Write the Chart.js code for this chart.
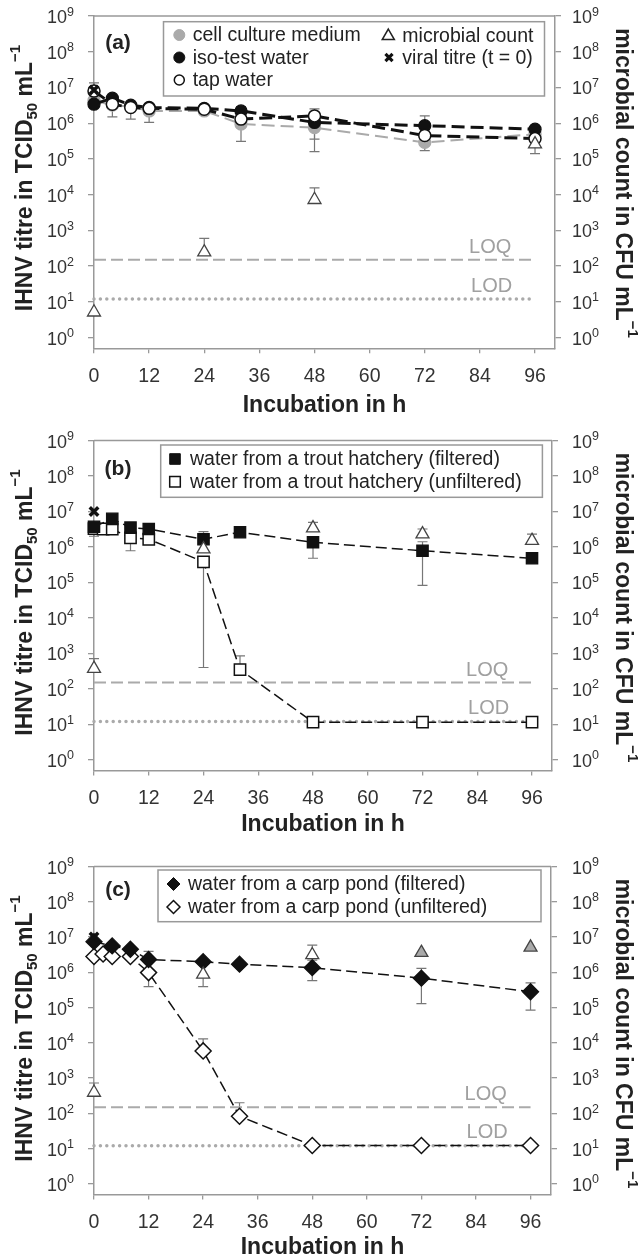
<!DOCTYPE html>
<html>
<head>
<meta charset="utf-8">
<script src="https://cdn.jsdelivr.net/npm/chart.js@4.4.1/dist/chart.umd.min.js"></script>
<style>
  html, body { margin: 0; padding: 0; background: #fff; }
  #wrap { position: relative; width: 644px; height: 1258px; }
  canvas { position: absolute; left: 0; }
</style>
</head>
<body>
<div id="wrap">
  <canvas id="chartA" width="644" height="425" style="top:0px"></canvas>
  <canvas id="chartB" width="644" height="425" style="top:425px"></canvas>
  <canvas id="chartC" width="644" height="408" style="top:850px"></canvas>
</div>
<script>
// ---- shared axis values ----
const hourTicks = [0, 12, 24, 36, 48, 60, 72, 84, 96];
const powerTicks = [1, 10, 100, 1e3, 1e4, 1e5, 1e6, 1e7, 1e8, 1e9];
const limitHours = [0, 96];
const loqValue = [150, 150];
const lodValue = [12, 12];

// ---- panel (a) ----
const hoursA = [0, 4, 8, 12, 24, 32, 48, 72, 96];
const cellCulture = [4.3e6, 3.2e6, 2.9e6, 2.2e6, 2.2e6, 9.5e5, 7.5e5, 2.9e5, 4.9e5];
const cellCultureLo = [null, 1.5e6, 1.3e6, 1.05e6, null, 3.1e5, 1.6e5, 1.7e5, null];
const isoTest = [3.4e6, 5.0e6, 3.2e6, 2.75e6, 2.6e6, 2.2e6, 1.05e6, 8.5e5, 6.8e5];
const isoTestHi = [null, null, null, null, null, 2.9e6, null, 1.6e6, null];
const tapWater = [7.9e6, 3.4e6, 2.75e6, 2.6e6, 2.45e6, 1.3e6, 1.6e6, 4.5e5, 3.7e5];
const tapWaterHi = [1.35e7, null, null, null, null, null, 2.5e6, null, null];
const tapWaterLo = [null, null, null, null, null, null, 3.6e5, null, null];
const microbeHoursA = [0, 24, 48, 96];
const microbeA = [5.1, 245, 7200, 2.6e5];
const microbeAHi = [null, 600, 1.55e4, null];
const microbeALo = [null, null, null, 1.4e5];
const viralA = [8.5e6];

// ---- panel (b) ----
const hoursB = [0, 2, 4, 8, 12, 24, 32, 48, 72, 96];
const troutFiltered = [3.7e6, null, 6.2e6, 3.5e6, 3.2e6, 1.65e6, 2.6e6, 1.35e6, 7.8e5, 4.8e5];
const troutFilteredHi = [null, null, null, null, null, 2.7e6, null, null, 1.4e6, null];
const troutFilteredLo = [2.0e6, null, null, null, null, null, null, 4.8e5, 8.3e4, null];
const troutUnfiltered = [3.3e6, 3.2e6, 3.2e6, 1.8e6, 1.65e6, 3.8e5, 350, 11.5, 11.5, 11.5];
const troutUnfilteredHi = [null, null, null, null, null, null, 850, null, null, null];
const troutUnfilteredLo = [null, null, null, 7.8e5, null, 400, null, null, null, null];
const microbeHoursB = [0, 24, 48, 72, 96];
const microbeB = [370, 8.7e5, 3.4e6, 2.3e6, 1.5e6];
const microbeBHi = [710, null, 4.9e6, 3.2e6, 2.3e6];
const viralB = [1.0e7];

// ---- panel (c) ----
const hoursC = [0, 2, 4, 8, 12, 24, 32, 48, 72, 96];
const carpFiltered = [7.4e6, null, 5.6e6, 4.5e6, 2.3e6, 2.0e6, 1.7e6, 1.35e6, 6.8e5, 2.8e5];
const carpFilteredHi = [null, null, null, null, 3.9e6, null, null, 2.2e6, 1.3e6, 5.0e5];
const carpFilteredLo = [null, null, null, null, null, null, null, 5.8e5, 1.3e5, 8.5e4];
const carpUnfiltered = [2.8e6, 3.3e6, 2.8e6, 2.8e6, 9.8e5, 5.9e3, 83, 12.3, 12.3, 12.3];
const carpUnfilteredHi = [null, null, null, null, null, 1.3e4, 200, null, null, null];
const carpUnfilteredLo = [null, null, null, null, 3.9e5, null, null, null, null, null];
const microbeHoursC = [0, 24, 48, 72, 96];
const microbeC = [390, 8.7e5, 3.1e6, 3.6e6, 5.1e6];
const microbeCHi = [725, null, 5.9e6, null, null];
const microbeCLo = [null, 3.9e5, null, null, null];
const microbeCFill = ['#fff', '#fff', '#fff', '#aaa', '#aaa'];
const viralC = [1.0e7];

const FONT = '"Liberation Sans", Arial, Helvetica, sans-serif';
const AXIS = '#999';

function pts(hours, vals, hi, lo) {
  return hours.map((h, i) => ({ x: h, y: vals[i], hi: hi ? hi[i] : null, lo: lo ? lo[i] : null }))
    .filter(p => p.y != null);
}

function series(label, data, o) {
  return {
    label, data,
    yAxisID: o.axis || 'y',
    showLine: o.line !== undefined,
    spanGaps: true,
    borderColor: o.line || '#000',
    borderWidth: o.lw || 1.5,
    borderDash: o.dash || [],
    borderCapStyle: o.cap || 'butt',
    pointStyle: o.style || 'circle',
    pointRadius: o.r === undefined ? 6 : o.r,
    pointBackgroundColor: o.fill || '#111',
    pointBorderColor: o.stroke || '#111',
    pointBorderWidth: o.bw === undefined ? 1.3 : o.bw,
    order: o.order || 0,
    clip: false,
    tension: 0
  };
}

function limitSets() {
  return [
    series('LOQ', pts(limitHours, loqValue), { line: '#aaa', lw: 2, dash: [12, 5], r: 0, order: 9 }),
    series('LOD', pts(limitHours, lodValue), { line: '#aaa', lw: 3.5, dash: [0, 6.4], cap: 'round', r: 0, order: 9 })
  ];
}

// draw a run of text pieces (for sub/superscripts)
function drawRuns(ctx, parts, x, y, align) {
  let w = 0;
  parts.forEach(p => {
    ctx.font = (p.b ? 'bold ' : '') + p.s + 'px ' + FONT;
    p.w = ctx.measureText(p.t).width;
    w += p.w;
  });
  let cx = align === 'center' ? x - w / 2 : align === 'right' ? x - w : x;
  ctx.textAlign = 'left';
  parts.forEach(p => {
    ctx.font = (p.b ? 'bold ' : '') + p.s + 'px ' + FONT;
    ctx.fillText(p.t, cx, y + (p.dy || 0));
    cx += p.w;
  });
}

const errorBars = {
  id: 'errorBars',
  beforeDatasetsDraw(chart) {
    const { ctx, scales } = chart;
    ctx.save();
    ctx.strokeStyle = '#777';
    ctx.lineWidth = 1.2;
    chart.data.datasets.forEach(ds => {
      const ys = scales[ds.yAxisID];
      ds.data.forEach(p => {
        const px = scales.x.getPixelForValue(p.x);
        const py = ys.getPixelForValue(p.y);
        [p.hi, p.lo].forEach(e => {
          if (e == null) return;
          const ey = ys.getPixelForValue(e);
          ctx.beginPath();
          ctx.moveTo(px, py); ctx.lineTo(px, ey);
          ctx.moveTo(px - 5, ey); ctx.lineTo(px + 5, ey);
          ctx.stroke();
        });
      });
    });
    ctx.restore();
  }
};

const axisText = {
  id: 'axisText',
  afterDraw(chart, args, o) {
    const { ctx, chartArea: a, scales } = chart;
    ctx.save();
    // top frame
    ctx.strokeStyle = AXIS; ctx.lineWidth = 1.5;
    ctx.beginPath(); ctx.moveTo(a.left, a.top); ctx.lineTo(a.right, a.top); ctx.stroke();

    // power-of-ten labels on both sides
    ctx.fillStyle = '#333'; ctx.textBaseline = 'alphabetic';
    powerTicks.forEach(v => {
      const y = scales.y.getPixelForValue(v) + 7;
      const exp = String(Math.round(Math.log10(v)));
      drawRuns(ctx, [{ t: '10', s: 18 }, { t: exp, s: 12.5, dy: -7.5 }], 47, y, 'left');
      drawRuns(ctx, [{ t: '10', s: 18 }, { t: exp, s: 12.5, dy: -7.5 }], 572, y, 'left');
    });

    // hour labels and x title
    ctx.textAlign = 'center'; ctx.textBaseline = 'middle';
    ctx.font = '19.5px ' + FONT;
    hourTicks.forEach(h => ctx.fillText(String(h), scales.x.getPixelForValue(h), a.bottom + 28.5));
    ctx.fillStyle = '#222';
    ctx.font = 'bold 23px ' + FONT;
    ctx.fillText('Incubation in h', (a.left + a.right) / 2, a.bottom + o.titleGap);

    // y titles
    ctx.textBaseline = 'alphabetic';
    ctx.save();
    ctx.translate(32, a.top + 162);
    ctx.rotate(-Math.PI / 2);
    drawRuns(ctx, [
      { t: 'IHNV titre in TCID', s: 23, b: true },
      { t: '50', s: 15, b: true, dy: 5 },
      { t: ' mL', s: 23, b: true },
      { t: '\u22121', s: 15, b: true, dy: -12 }
    ], 0, 0, 'center');
    ctx.restore();
    ctx.save();
    ctx.translate(616, a.top + 167);
    ctx.rotate(Math.PI / 2);
    drawRuns(ctx, [
      { t: 'microbial count in CFU mL', s: 23, b: true },
      { t: '\u22121', s: 15, b: true, dy: -12 }
    ], 0, 0, 'center');
    ctx.restore();

    // LOQ / LOD labels
    ctx.fillStyle = '#a0a0a0'; ctx.font = '20px ' + FONT;
    ctx.textAlign = 'left'; ctx.textBaseline = 'middle';
    const lx = scales.x.getPixelForValue(96) - 66;
    ctx.fillText('LOQ', lx, scales.y.getPixelForValue(loqValue[0]) - 12.5);
    ctx.fillText('LOD', lx + 2, scales.y.getPixelForValue(lodValue[0]) - 13);

    // panel tag
    ctx.fillStyle = '#222'; ctx.font = 'bold 21px ' + FONT; ctx.textAlign = 'center';
    ctx.fillText(o.tag, 118, o.tagY);

    // legend box
    const L = o.legend;
    const [x1, y1, x2, y2] = L.box;
    ctx.fillStyle = '#fff'; ctx.fillRect(x1, y1, x2 - x1, y2 - y1);
    ctx.strokeStyle = AXIS; ctx.lineWidth = 1.5; ctx.strokeRect(x1, y1, x2 - x1, y2 - y1);
    L.items.forEach(it => {
      ctx.fillStyle = it.fill; ctx.strokeStyle = it.stroke; ctx.lineWidth = it.bw;
      Chart.helpers.drawPoint(ctx, { pointStyle: it.style, radius: it.r, borderWidth: it.bw, rotation: 0 }, it.mx, it.y);
      ctx.fillStyle = '#222'; ctx.font = '19.5px ' + FONT;
      ctx.textAlign = 'left'; ctx.textBaseline = 'middle';
      ctx.fillText(it.text, it.tx, it.y + 1);
    });
    ctx.restore();
  }
};

function makeChart(id, datasets, g) {
  const yScale = (pos, width) => ({
    type: 'logarithmic', position: pos, min: 0.5, max: 1e9,
    afterBuildTicks: s => { s.ticks = powerTicks.map(v => ({ value: v })); },
    afterFit: s => { s.width = width; },
    ticks: { display: false },
    grid: { drawOnChartArea: false, drawTicks: true, tickLength: 6, color: AXIS, lineWidth: 1.3 },
    border: { color: AXIS, width: 1.5 }
  });
  return new Chart(document.getElementById(id), {
    type: 'line',
    data: { datasets },
    options: {
      responsive: false,
      animation: false,
      devicePixelRatio: 1,
      layout: { padding: { top: g.top, left: 0, right: 0, bottom: 0 } },
      scales: {
        x: {
          type: 'linear', min: 0, max: g.xmax,
          afterBuildTicks: s => { s.ticks = hourTicks.map(v => ({ value: v })); },
          afterFit: s => { s.height = g.xh; },
          ticks: { display: false },
          grid: { drawOnChartArea: false, drawTicks: true, tickLength: 5, color: AXIS, lineWidth: 1.3 },
          border: { color: AXIS, width: 1.5 }
        },
        y: yScale('left', 94),
        y2: yScale('right', 644 - g.right)
      },
      plugins: {
        legend: { display: false },
        tooltip: { enabled: false },
        axisText: g.text
      }
    },
    plugins: [errorBars, axisText]
  });
}

// ---- panel (a) chart ----
makeChart('chartA', [
  series('viral titre (t = 0)', pts([0], viralA), { style: 'crossRot', r: 6, stroke: '#111', bw: 3.5, order: 0 }),
  series('microbial count', pts(microbeHoursA, microbeA, microbeAHi, microbeALo), { axis: 'y2', style: 'triangle', r: 7.5, fill: '#fff', stroke: '#444', bw: 1.3, order: 1 }),
  series('tap water', pts(hoursA, tapWater, tapWaterHi, tapWaterLo), { line: '#111', lw: 3, dash: [13, 6], fill: '#fff', stroke: '#111', bw: 1.5, order: 2 }),
  series('iso-test water', pts(hoursA, isoTest, isoTestHi), { line: '#111', lw: 3, dash: [13, 6], fill: '#111', stroke: '#111', order: 3 }),
  series('cell culture medium', pts(hoursA, cellCulture, null, cellCultureLo), { line: '#aaa', lw: 2, dash: [13, 6], fill: '#aaa', stroke: '#aaa', order: 4 }),
  ...limitSets()
], {
  top: 16, xh: 425 - 348.3, right: 555, xmax: 100.35,
  text: {
    tag: '(a)', tagY: 43.5, titleGap: 57,
    legend: {
      box: [163.5, 21.7, 544.5, 96],
      items: [
        { mx: 179.3, tx: 192.7, y: 35, text: 'cell culture medium', style: 'circle', r: 5.5, fill: '#aaa', stroke: '#aaa', bw: 1 },
        { mx: 179.3, tx: 192.7, y: 57.5, text: 'iso-test water', style: 'circle', r: 5.5, fill: '#111', stroke: '#111', bw: 1 },
        { mx: 179.3, tx: 192.7, y: 80, text: 'tap water', style: 'circle', r: 5, fill: '#fff', stroke: '#111', bw: 1.5 },
        { mx: 388.3, tx: 402.3, y: 36, text: 'microbial count', style: 'triangle', r: 7, fill: '#fff', stroke: '#222', bw: 1.5 },
        { mx: 389, tx: 402.3, y: 57.5, text: 'viral titre (t = 0)', style: 'crossRot', r: 5, fill: '#111', stroke: '#111', bw: 3.2 }
      ]
    }
  }
});

// ---- panel (b) chart ----
makeChart('chartB', [
  series('viral titre (t = 0)', pts([0], viralB), { style: 'crossRot', r: 6, stroke: '#111', bw: 3.5, order: 0 }),
  series('microbial count', pts(microbeHoursB, microbeB, microbeBHi), { axis: 'y2', style: 'triangle', r: 7.5, fill: '#fff', stroke: '#444', bw: 1.3, order: 1 }),
  series('water from a trout hatchery (filtered)', pts(hoursB, troutFiltered, troutFilteredHi, troutFilteredLo), { line: '#111', lw: 1.5, dash: [11, 5], style: 'rect', r: 8, fill: '#111', stroke: '#111', order: 2 }),
  series('water from a trout hatchery (unfiltered)', pts(hoursB, troutUnfiltered, troutUnfilteredHi, troutUnfilteredLo), { line: '#111', lw: 1.5, dash: [11, 5], style: 'rect', r: 8, fill: '#fff', stroke: '#111', bw: 1.5, order: 3 }),
  ...limitSets()
], {
  top: 15.5, xh: 425 - 345.5, right: 552, xmax: 100.38,
  text: {
    tag: '(b)', tagY: 44.3, titleGap: 54.2,
    legend: {
      box: [160.7, 20, 542.4, 72.3],
      items: [
        { mx: 175, tx: 190, y: 34, text: 'water from a trout hatchery (filtered)', style: 'rect', r: 7.5, fill: '#111', stroke: '#111', bw: 1 },
        { mx: 175, tx: 190, y: 56.7, text: 'water from a trout hatchery (unfiltered)', style: 'rect', r: 7.5, fill: '#fff', stroke: '#111', bw: 1.5 }
      ]
    }
  }
});

// ---- panel (c) chart ----
makeChart('chartC', [
  series('viral titre (t = 0)', pts([0], viralC), { style: 'crossRot', r: 6, stroke: '#111', bw: 3.5, order: 0 }),
  Object.assign(series('microbial count', pts(microbeHoursC, microbeC, microbeCHi, microbeCLo), { axis: 'y2', style: 'triangle', r: 7.5, stroke: '#444', bw: 1.3, order: 1 }), { pointBackgroundColor: microbeCFill }),
  series('water from a carp pond (filtered)', pts(hoursC, carpFiltered, carpFilteredHi, carpFilteredLo), { line: '#111', lw: 1.5, dash: [11, 5], style: 'rectRot', r: 8, fill: '#111', stroke: '#111', order: 2 }),
  series('water from a carp pond (unfiltered)', pts(hoursC, carpUnfiltered, carpUnfilteredHi, carpUnfilteredLo), { line: '#111', lw: 1.5, dash: [11, 5], style: 'rectRot', r: 8, fill: '#fff', stroke: '#111', bw: 1.5, order: 3 }),
  ...limitSets()
], {
  top: 16.5, xh: 408 - 344.5, right: 551, xmax: 100.5,
  text: {
    tag: '(c)', tagY: 40, titleGap: 53.5,
    legend: {
      box: [158, 20, 541, 71.7],
      items: [
        { mx: 173.5, tx: 188, y: 34, text: 'water from a carp pond (filtered)', style: 'rectRot', r: 6.5, fill: '#111', stroke: '#111', bw: 1 },
        { mx: 173.5, tx: 188, y: 57, text: 'water from a carp pond (unfiltered)', style: 'rectRot', r: 6.5, fill: '#fff', stroke: '#111', bw: 1.5 }
      ]
    }
  }
});
</script>
</body>
</html>
